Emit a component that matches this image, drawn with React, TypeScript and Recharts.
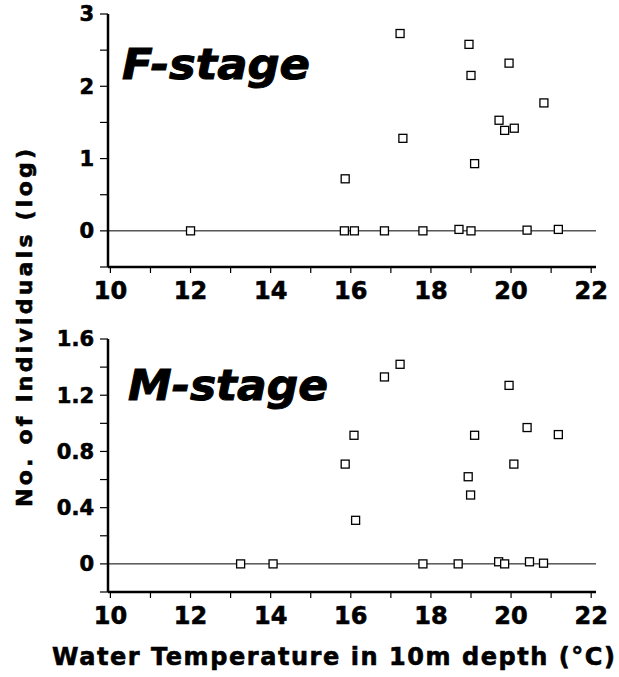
import { ScatterChart, Scatter, XAxis, YAxis, ReferenceLine, Customized } from 'recharts'

// F-stage: water temperature (°C) and log no. of individuals
const fTemp = [12.0, 15.84, 15.86, 16.09, 16.84, 17.23, 17.3, 17.8, 18.7, 18.95, 19.0, 19.0, 19.09, 19.7, 19.84, 19.95, 20.08, 20.4, 20.82, 21.18]
const fLog = [0, 0, 0.72, 0, 0, 2.73, 1.28, 0, 0.02, 2.58, 2.15, 0, 0.93, 1.53, 1.39, 2.32, 1.42, 0.01, 1.77, 0.02]

// M-stage
const mTemp = [13.25, 14.06, 15.86, 16.08, 16.12, 16.84, 17.23, 17.8, 18.68, 18.93, 18.99, 19.09, 19.69, 19.84, 19.95, 20.07, 20.4, 20.46, 20.81, 21.18]
const mLog = [0, 0, 0.71, 0.915, 0.31, 1.33, 1.42, 0, 0, 0.62, 0.49, 0.915, 0.015, 0, 1.27, 0.71, 0.97, 0.015, 0.005, 0.92]

const xTicks = [10, 11, 12, 13, 14, 15, 16, 17, 18, 19, 20, 21, 22]
const fTicks = [-0.5, 0, 0.5, 1, 1.5, 2, 2.5, 3]
const mTicks = [-0.2, 0, 0.2, 0.4, 0.6, 0.8, 1, 1.2, 1.4, 1.6]
const mLabels = [0, 0.4, 0.8, 1.2, 1.6]

const X_DOMAIN: [number, number] = [9.94, 22.12]
const FONT = '"DejaVu Sans", sans-serif'

const Square = (p: any) => (
  <rect x={p.cx - 4} y={p.cy - 4} width={8} height={8} fill="#fff" stroke="#000" strokeWidth={1.3} />
)

// plot-area border, taken from the chart's own offset
const Frame = (p: any) => {
  const o = p.offset
  if (!o) return null
  return <rect x={o.left} y={o.top} width={o.width} height={o.height} fill="none" stroke="#000" strokeWidth={2.5} />
}

const tickStyle = (size: number) => ({
  fontSize: size,
  fontFamily: FONT,
  fontWeight: 700,
  fill: '#000',
  stroke: '#000',
  strokeWidth: 0.6,
})

interface PanelProps {
  temps: number[]
  logs: number[]
  yTicks: number[]
  yDomain: [number, number]
  yFormat: (v: number) => string
  top: number
}

function Panel({ temps, logs, yTicks, yDomain, yFormat, top }: PanelProps) {
  const data = temps.map((t, i) => ({ x: t, y: logs[i] }))
  return (
    <div style={{ position: 'absolute', left: 0, top }}>
      <ScatterChart width={619} height={320} margin={{ top: 14, right: 23, bottom: 23, left: 48 }}>
        <XAxis
          type="number"
          dataKey="x"
          domain={X_DOMAIN}
          ticks={xTicks}
          allowDataOverflow
          stroke="#000"
          axisLine={{ stroke: '#000', strokeWidth: 2.5 }}
          tickSize={6}
          tickMargin={9}
          height={30}
          tickLine={{ stroke: '#000', strokeWidth: 1.2 }}
          tick={tickStyle(24)}
          tickFormatter={(v: number) => (v % 2 === 0 ? String(v) : '')}
        />
        <YAxis
          type="number"
          dataKey="y"
          domain={yDomain}
          ticks={yTicks}
          allowDataOverflow
          stroke="#000"
          axisLine={{ stroke: '#000', strokeWidth: 2.5 }}
          width={60}
          tickSize={8}
          tickMargin={6}
          tickLine={{ stroke: '#000', strokeWidth: 1.2 }}
          tick={tickStyle(21)}
          tickFormatter={yFormat}
        />
        <ReferenceLine y={0} stroke="#000" strokeWidth={1} />
        <Customized component={Frame} />
        <Scatter data={data} shape={Square} isAnimationActive={false} />
      </ScatterChart>
    </div>
  )
}

export default function App() {
  return (
    <div style={{ position: 'absolute', left: 0, top: 0, width: 619, height: 677, background: '#fff' }}>
      <Panel
        temps={fTemp}
        logs={fLog}
        yTicks={fTicks}
        yDomain={[-0.5, 3]}
        yFormat={(v) => (Number.isInteger(v) ? String(v) : '')}
        top={0}
      />
      <Panel
        temps={mTemp}
        logs={mLog}
        yTicks={mTicks}
        yDomain={[-0.2, 1.6]}
        yFormat={(v) => (mLabels.some((t) => Math.abs(t - v) < 1e-9) ? (v === 0 ? '0' : v.toFixed(1)) : '')}
        top={325}
      />
      <svg width={619} height={677} style={{ position: 'absolute', left: 0, top: 0, pointerEvents: 'none' }}>
        <g fontFamily={FONT} fontWeight={700} fill="#000" stroke="#000">
          <text x={122} y={79} fontStyle="italic" fontSize={42} strokeWidth={1} textLength={188} lengthAdjust="spacingAndGlyphs">
            F-stage
          </text>
          <text x={128} y={400} fontStyle="italic" fontSize={42} strokeWidth={1} textLength={200} lengthAdjust="spacingAndGlyphs">
            M-stage
          </text>
          <text x={52} y={665} fontSize={24} strokeWidth={0.6} textLength={563} lengthAdjust="spacing">
            Water Temperature in 10m depth (°C)
          </text>
          <text
            transform="translate(32 328) rotate(-90)"
            textAnchor="middle"
            fontSize={22}
            strokeWidth={0.6}
            textLength={358}
            lengthAdjust="spacing"
          >
            No. of Individuals (log)
          </text>
        </g>
      </svg>
    </div>
  )
}
